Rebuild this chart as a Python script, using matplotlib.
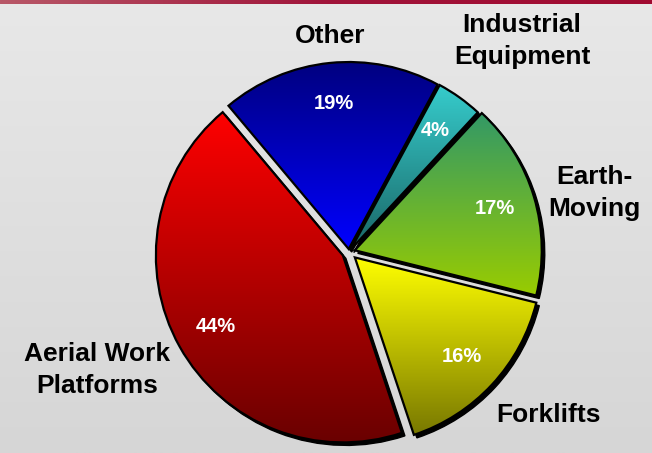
import numpy as np
import matplotlib
matplotlib.use("Agg")
import matplotlib.pyplot as plt
from matplotlib.patches import Wedge
from matplotlib.colors import LinearSegmentedColormap

plt.rcParams['font.family'] = ['Liberation Sans', 'DejaVu Sans']

# market share by segment
segments = ["Other", "Industrial\nEquipment", "Earth-\nMoving", "Forklifts", "Aerial Work\nPlatforms"]
shares = [19, 4, 17, 16, 44]

# vertical gradient (top colour, bottom colour) for each slice
gradients = [
    ("#000080", "#0000ff"),
    ("#36cccc", "#1a6666"),
    ("#339966", "#99cc00"),
    ("#ffff00", "#787800"),
    ("#ff0000", "#6a0000"),
]
explode_px = [3, 3, 6, 8, 7]

# label anchors in pixels from the top-left corner
label_pos = [(330, 36), (522, 41), (594, 193), (548, 415), (97, 370)]

W, H = 652, 453
fig = plt.figure(figsize=(W / 100, H / 100), dpi=100)
ax = fig.add_axes([0, 0, 1, 1])

# light grey backdrop
bg = np.linspace(0, 1, 256).reshape(-1, 1)
bg_cmap = LinearSegmentedColormap.from_list("bg", ["#e8e8e8", "#d6d6d6"])
ax.imshow(bg, cmap=bg_cmap, extent=(0, W, 0, H), aspect="auto", zorder=0, origin="upper")

# thin maroon strip along the top
strip = np.linspace(0, 1, 256).reshape(1, -1)
strip_cmap = LinearSegmentedColormap.from_list("strip", ["#b85868", "#a0143a", "#a00a30"])
ax.imshow(strip, cmap=strip_cmap, extent=(0, W, H - 4, H), aspect="auto", zorder=1)

center = (349, H - 252)
radius = 187

# pie() offsets exploded wedges in data units, so pixels work directly here
wedges, texts, autotexts = ax.pie(
    shares, explode=explode_px, startangle=130, counterclock=False,
    radius=radius, center=center, autopct="%d%%", pctdistance=0.78,
    wedgeprops=dict(edgecolor="black", linewidth=1.6, facecolor="none"),
    textprops=dict(color="white", fontsize=14.5, fontweight="bold"),
)

for w, (c_top, c_bot) in zip(wedges, gradients):
    w.set_zorder(4)
    # drop shadow toward the lower right
    sh = Wedge((w.center[0] + 3, w.center[1] - 3), w.r, w.theta1, w.theta2,
               facecolor="black", edgecolor="black", linewidth=1, zorder=2)
    ax.add_patch(sh)
    x0, y0, x1, y1 = w.get_path().get_extents().extents
    cmap = LinearSegmentedColormap.from_list("g", [c_top, c_bot])
    im = ax.imshow(np.linspace(0, 1, 256).reshape(-1, 1), cmap=cmap,
                   extent=(x0, x1, y0, y1), aspect="auto", origin="upper", zorder=3)
    im.set_clip_path(w)

for t in texts:
    t.set_visible(False)
for t in autotexts:
    t.set_zorder(6)

for name, (px, py) in zip(segments, label_pos):
    ax.text(px, H - py, name, ha="center", va="center", fontsize=19,
            fontweight="bold", color="black", linespacing=1.4, zorder=6)

ax.set_xlim(0, W)
ax.set_ylim(0, H)
ax.axis("off")

fig.savefig("out.png", dpi=100)
